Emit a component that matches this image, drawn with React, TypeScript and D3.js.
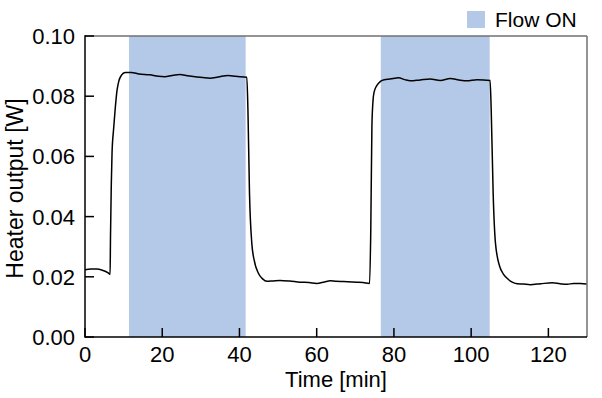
import React from "react";
import * as d3 from "d3";

const timeMin = [
  0, 1.5, 3, 4.5, 6, 6.5, 6.6, 6.8, 7.0, 7.4, 7.8, 8.3, 8.8, 9.4, 10.4, 12, 14, 16.8, 19, 20.7, 22.5, 24.6, 26.5,
  29, 30.5, 32.4, 34.5, 37.1, 39, 41.9, 42.2, 42.6, 43.2, 43.8, 44.9, 46, 47.1, 48.5, 50.5, 53, 55.7, 58, 60,
  62, 63.5, 65, 66.9, 70.4, 72, 73.7, 74.0, 74.3, 74.6, 74.9, 75.6, 76.5, 77.5, 79, 81.2, 82.8, 84.2, 86.8,
  89.4, 92, 94.6, 96.8, 98.9, 101.5, 104.9, 105.2, 105.7, 106.3, 107.4, 108.3, 109.3, 110.5, 111.9, 113.5,
  115.3, 118, 121, 123, 124.9, 126.5, 128.3, 130,
];
const heaterW = [
  0.0223, 0.0226, 0.0226, 0.0222, 0.0213, 0.0208, 0.033, 0.05, 0.061, 0.069, 0.0755, 0.082, 0.0852, 0.0869,
  0.0879, 0.0879, 0.0874, 0.0871, 0.0866, 0.0865, 0.0869, 0.0872, 0.0868, 0.0864, 0.0862, 0.086, 0.0864, 0.0869,
  0.0866, 0.0863, 0.075, 0.0477, 0.0311, 0.0256, 0.0212, 0.0193, 0.0185, 0.0186, 0.0188, 0.0186, 0.0182,
  0.0181, 0.0178, 0.0183, 0.0187, 0.0185, 0.0184, 0.0182, 0.0181, 0.0178, 0.035, 0.07, 0.0787, 0.0815,
  0.0836, 0.0849, 0.0855, 0.0857, 0.0861, 0.0855, 0.0851, 0.0854, 0.0857, 0.0852, 0.0859, 0.0854, 0.0851,
  0.0855, 0.0852, 0.075, 0.0477, 0.0311, 0.0234, 0.021, 0.0195, 0.0183, 0.0177, 0.0176, 0.0174, 0.0177,
  0.018, 0.0177, 0.0175, 0.0178, 0.0178, 0.0176,
];
const flowOnStart = [11.4, 76.6];
const flowOnEnd = [41.6, 104.8];
const xTicks = [0, 20, 40, 60, 80, 100, 120];
const yTicks = [0, 0.02, 0.04, 0.06, 0.08, 0.1];

const W = 602;
const H = 398;
const m = { left: 85, top: 36, right: 587, bottom: 337 };
const FONT = "'Liberation Sans', Arial, Helvetica, sans-serif";
const BAND = "#b4c9e7";

export default function App() {
  const x = d3.scaleLinear().domain([0, 130]).range([m.left, m.right]);
  const y = d3.scaleLinear().domain([0, 0.1]).range([m.bottom, m.top]);
  const pts = timeMin.map((t, i) => [t, heaterW[i]] as [number, number]);
  const line = d3
    .line<[number, number]>()
    .x((d) => x(d[0]))
    .y((d) => y(d[1]))
    .curve(d3.curveMonotoneX);
  const tickLen = 9;
  return (
    <div style={{ position: "absolute", left: 0, top: 0 }}>
      <svg width={W} height={H} style={{ display: "block", background: "#fff" }} fontFamily={FONT}>
        {flowOnStart.map((s, i) => (
          <rect key={i} x={x(s)} y={m.top} width={x(flowOnEnd[i]) - x(s)} height={m.bottom - m.top} fill={BAND} />
        ))}
        <defs>
          <clipPath id="plot">
            <rect x={m.left} y={m.top} width={m.right - m.left} height={m.bottom - m.top} />
          </clipPath>
        </defs>
        <path d={line(pts) || ""} fill="none" stroke="#000" strokeWidth={1.5} clipPath="url(#plot)" />
        <line x1={m.left} x2={m.right} y1={m.top} y2={m.top} stroke="#707070" strokeWidth={1.5} />
        <line x1={m.right} x2={m.right} y1={m.top} y2={m.bottom} stroke="#707070" strokeWidth={1.5} />
        <line x1={m.left} x2={m.left} y1={m.top - 0.75} y2={m.bottom + 0.75} stroke="#000" strokeWidth={1.5} />
        <line x1={m.left} x2={m.right} y1={m.bottom} y2={m.bottom} stroke="#000" strokeWidth={1.5} />
        {yTicks.map((t) => (
          <g key={"y" + t}>
            <line x1={m.left} x2={m.left + tickLen} y1={y(t)} y2={y(t)} stroke="#000" strokeWidth={1.5} />
            <text x={m.left - 10} y={y(t) + 8} textAnchor="end" fontSize={22} fill="#000">
              {t.toFixed(2)}
            </text>
          </g>
        ))}
        {xTicks.map((t) => (
          <g key={"x" + t}>
            <line x1={x(t)} x2={x(t)} y1={m.bottom} y2={m.bottom - tickLen} stroke="#000" strokeWidth={1.5} />
            <text x={x(t)} y={362} textAnchor="middle" fontSize={22} fill="#000">
              {t}
            </text>
          </g>
        ))}
        <text x={(m.left + m.right) / 2} y={387} textAnchor="middle" fontSize={22} fill="#000">
          Time [min]
        </text>
        <text
          transform={`translate(23,${(m.top + m.bottom) / 2 + 2}) rotate(-90)`}
          textAnchor="middle"
          fontSize={23}
          fill="#000"
        >
          Heater output [W]
        </text>
        <rect x={467} y={11} width={18} height={17} fill={BAND} />
        <text x={495} y={27.3} fontSize={21} fill="#000">
          Flow ON
        </text>
      </svg>
    </div>
  );
}
